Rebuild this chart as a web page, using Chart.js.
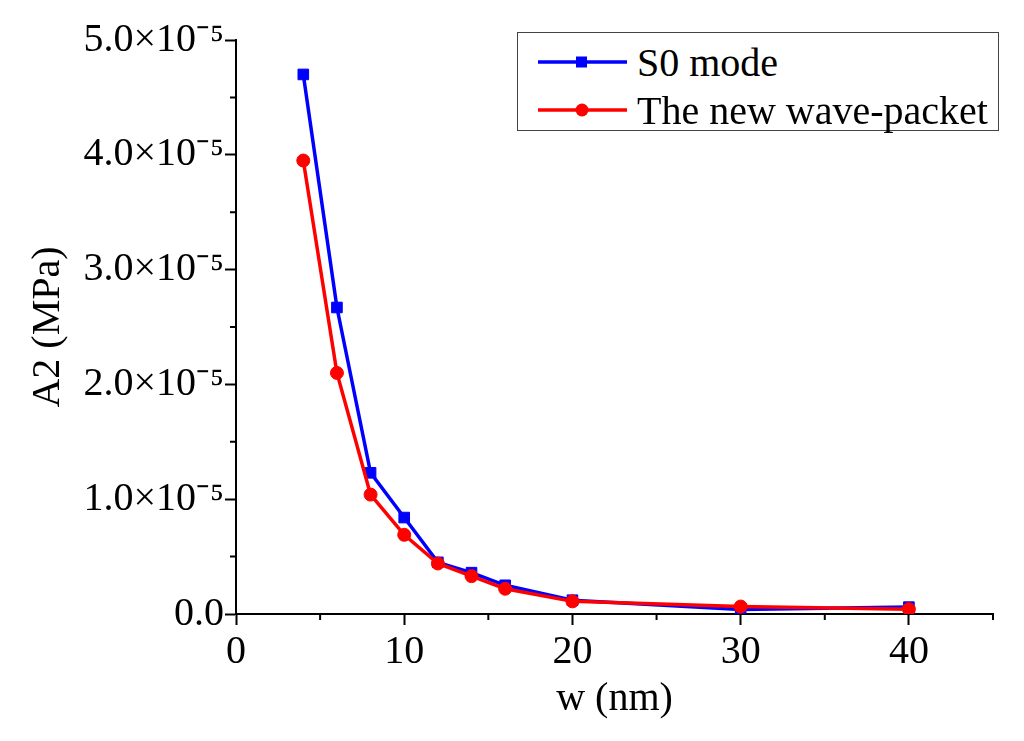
<!DOCTYPE html>
<html><head><meta charset="utf-8">
<script src="https://cdn.jsdelivr.net/npm/chart.js@4/dist/chart.umd.min.js"></script>
<style>
html,body{margin:0;padding:0;background:#fff;}
#wrap{position:relative;width:1024px;height:741px;}
#legend{position:absolute;left:517px;top:32px;width:480px;height:97px;border:1.5px solid #444;font-family:"Liberation Serif","Times New Roman",serif;font-size:40px;color:#000;background:#fff;}
.row{position:absolute;left:0;height:48px;display:flex;align-items:center;white-space:nowrap;}
.row svg{margin-left:20px;margin-right:10px;}
</style></head><body>
<div id="wrap"><canvas id="c" width="1024" height="741"></canvas><div id="legend"></div></div>
<script>
// ---- data ----
const widths = [4, 6, 8, 10, 12, 14, 16, 20, 30, 40];
const s0Mode = [4.70e-5, 2.67e-5, 1.23e-5, 0.84e-5, 0.45e-5, 0.36e-5, 0.25e-5, 0.12e-5, 0.04e-5, 0.06e-5];
const newWavePacket = [3.95e-5, 2.10e-5, 1.04e-5, 0.69e-5, 0.44e-5, 0.33e-5, 0.22e-5, 0.11e-5, 0.065e-5, 0.042e-5];
const seriesLabels = ['S0 mode', 'The new wave-packet'];
const xTitle = 'w (nm)';
const yTitle = 'A2 (MPa)';
const xMinorTicks = [5, 15, 25, 35, 45];
const yMinorTicks = [0.5e-5, 1.5e-5, 2.5e-5, 3.5e-5, 4.5e-5];

const FONT = "'Liberation Serif','Times New Roman',serif";
Chart.defaults.font.family = FONT;
Chart.defaults.color = '#000';

const toPts = (ys) => widths.map((w, i) => ({x: w, y: ys[i]}));

const minorTicks = {
  id: 'minorTicks',
  afterDraw(chart) {
    const {ctx, scales: {x, y}, chartArea} = chart;
    ctx.save();
    ctx.strokeStyle = '#000';
    ctx.lineWidth = 2;
    ctx.beginPath();
    xMinorTicks.forEach(v => {
      const px = x.getPixelForValue(v);
      ctx.moveTo(px, chartArea.bottom); ctx.lineTo(px, chartArea.bottom + 6);
    });
    yMinorTicks.forEach(v => {
      const py = y.getPixelForValue(v);
      ctx.moveTo(chartArea.left, py); ctx.lineTo(chartArea.left - 6, py);
    });
    ctx.stroke();
    ctx.restore();
  }
};

const chart = new Chart(document.getElementById('c'), {
  type: 'line',
  data: {
    datasets: [
      {label: seriesLabels[0], data: toPts(s0Mode), borderColor: '#0000FF', backgroundColor: '#0000FF',
       borderWidth: 3.5, pointStyle: 'rect', pointRadius: 7.5, pointBorderWidth: 1, tension: 0, order: 2},
      {label: seriesLabels[1], data: toPts(newWavePacket), borderColor: '#FF0000', backgroundColor: '#FF0000',
       borderWidth: 3.5, pointStyle: 'circle', pointRadius: 6.5, pointBorderWidth: 1, tension: 0, order: 1}
    ]
  },
  options: {
    responsive: false,
    animation: false,
    layout: {padding: {top: 40, right: 31, bottom: 0, left: 0}},
    plugins: {legend: {display: false}, tooltip: {enabled: false}},
    scales: {
      x: {
        type: 'linear', min: 0, max: 45,
        afterFit(s) { s.height = 127; },
        border: {display: true, color: '#000', width: 2},
        grid: {display: true, drawOnChartArea: false, drawTicks: true, tickLength: 11, tickColor: '#000', tickWidth: 2},
        ticks: {stepSize: 10, includeBounds: false, padding: 3, maxRotation: 0, font: {size: 40}, color: '#000'},
        title: {display: true, text: xTitle, font: {size: 40}, color: '#000', padding: {top: 0, bottom: 18}}
      },
      y: {
        type: 'linear', min: 0, max: 5e-5,
        afterFit(s) { s.width = 236; },
        border: {display: true, color: '#000', width: 2},
        grid: {display: true, drawOnChartArea: false, drawTicks: true, tickLength: 11, tickColor: '#000', tickWidth: 2},
        ticks: {
          stepSize: 1e-5, includeBounds: false, padding: 1, font: {size: 40}, color: '#000',
          callback: (v) => {
            const n = Math.round(v * 1e5 * 10) / 10;
            return n === 0 ? '0.0' : n.toFixed(1) + '\u00d710\u207b\u2075';
          }
        },
        title: {display: true, text: yTitle, font: {size: 40}, color: '#000', padding: {top: 24, bottom: 0}}
      }
    }
  },
  plugins: [minorTicks]
});

// legend built from the datasets
const legend = document.getElementById('legend');
chart.data.datasets.forEach((ds, i) => {
  const row = document.createElement('div');
  row.className = 'row';
  row.style.top = (i === 0 ? 5 : 53) + 'px';
  const marker = ds.pointStyle === 'rect'
    ? `<rect x="38" y="5.5" width="11" height="11" fill="${ds.backgroundColor}"/>`
    : `<circle cx="44" cy="11" r="6.5" fill="${ds.backgroundColor}"/>`;
  row.innerHTML = `<svg width="89" height="22"><line x1="0" y1="11" x2="89" y2="11" stroke="${ds.borderColor}" stroke-width="3.5"/>${marker}</svg><span>${ds.label}</span>`;
  legend.appendChild(row);
});
</script>
</body></html>
